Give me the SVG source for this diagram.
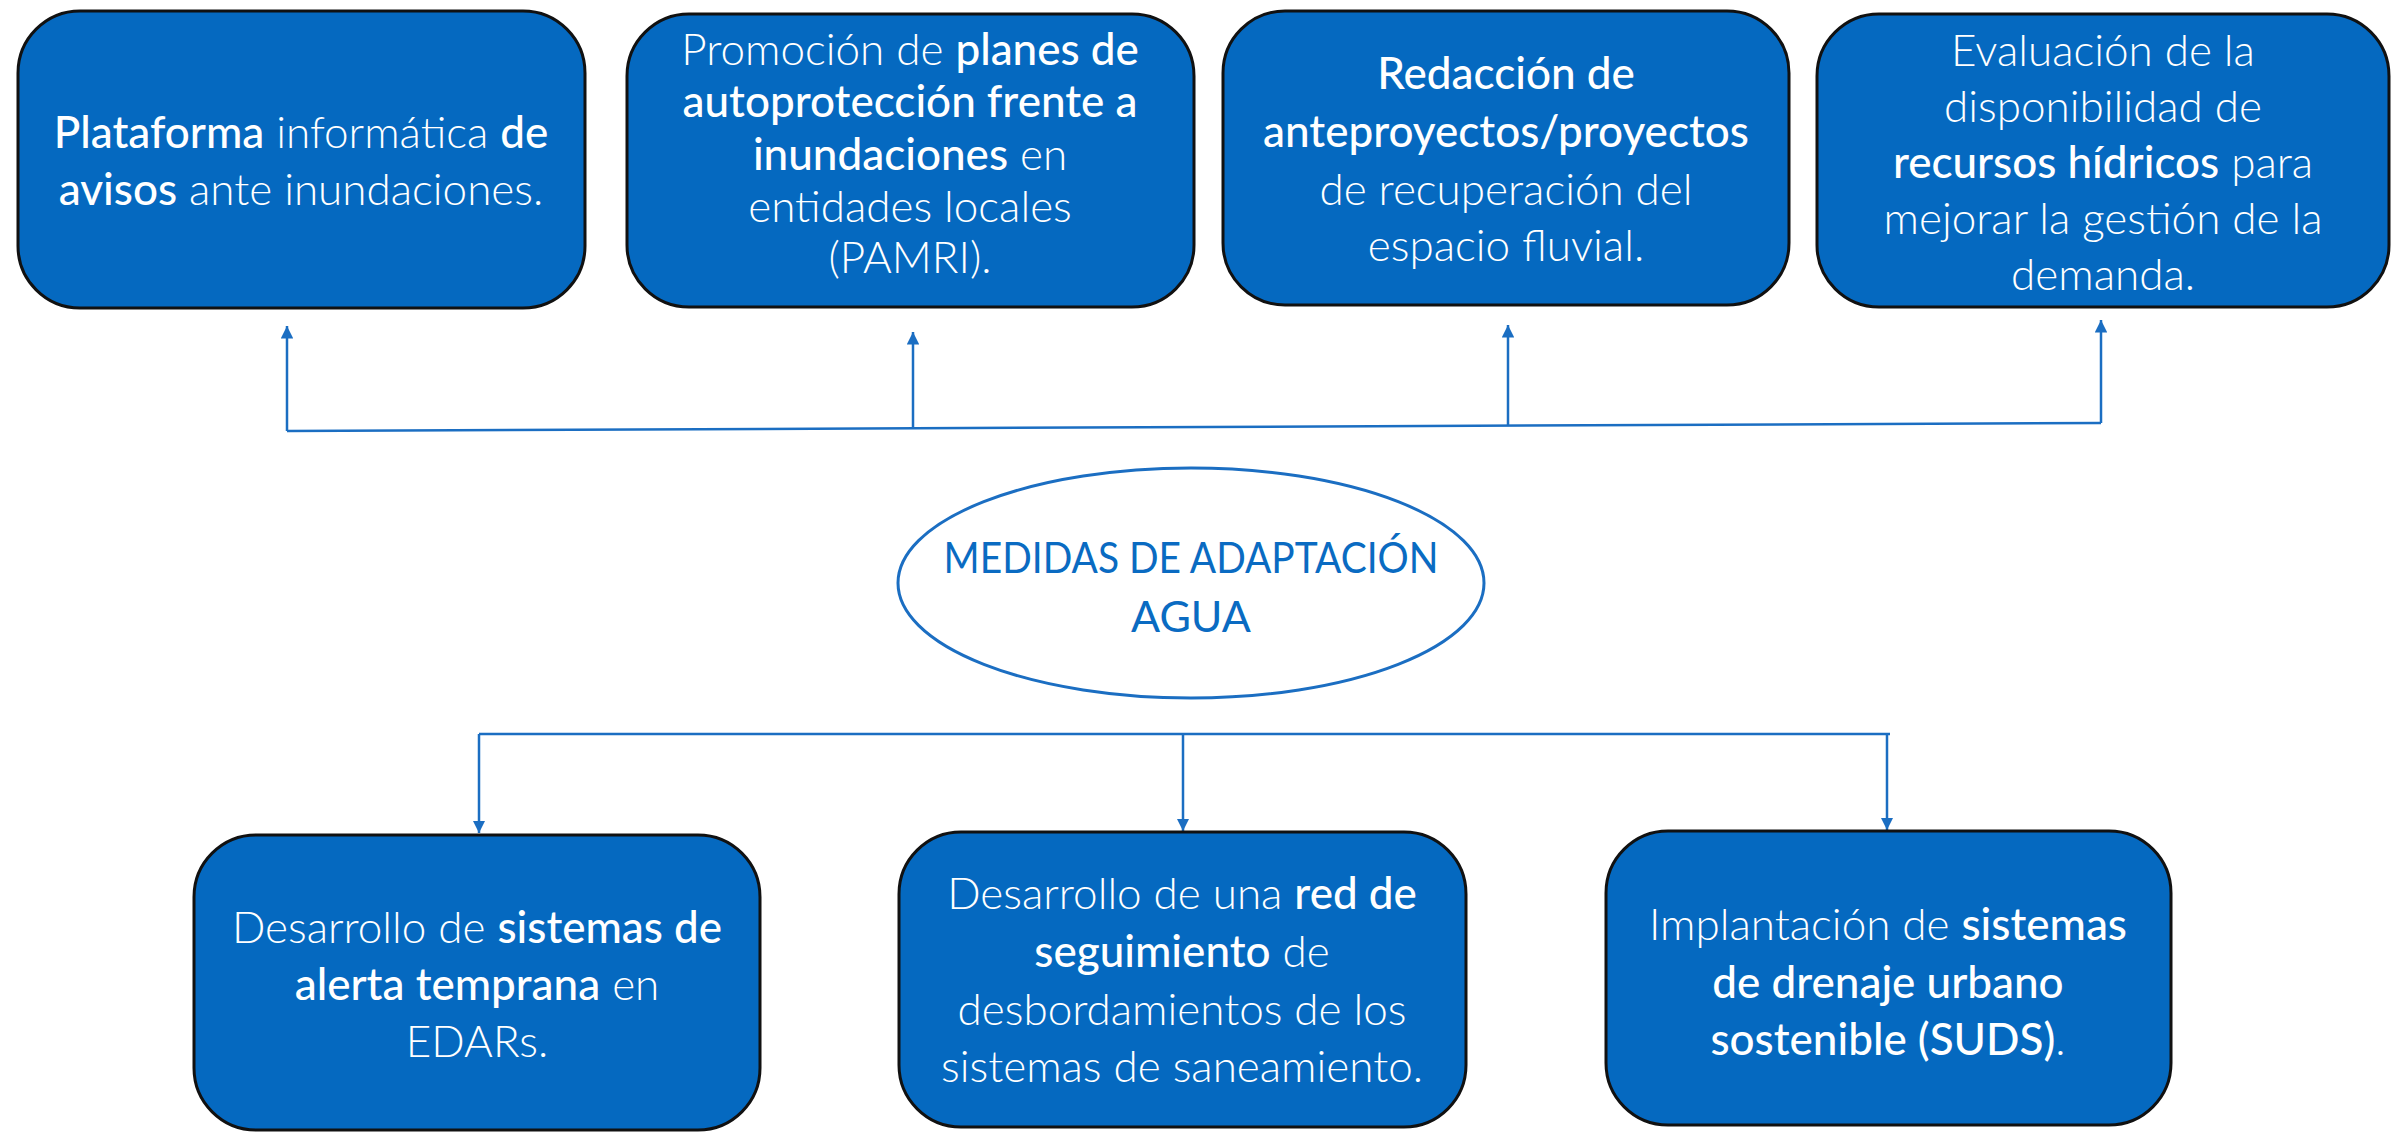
<svg xmlns="http://www.w3.org/2000/svg" width="2394" height="1138" viewBox="0 0 2394 1138">
<defs>
<style>
.box{fill:#0569C0;stroke:#111;stroke-width:3}
.t{font-family:Lato,"Liberation Sans",sans-serif;font-size:44px;fill:#fff;text-anchor:middle;font-weight:300}
.b{font-weight:500}
.c{stroke:#1B6EC2;stroke-width:2.5;fill:none}
.ct{font-family:Lato,"Liberation Sans",sans-serif;font-size:43px;fill:#0A6BC2;text-anchor:middle;font-weight:400}
</style>
<marker id="ah" viewBox="0 0 10 10" refX="10" refY="5" markerWidth="5" markerHeight="5" markerUnits="strokeWidth" orient="auto">
<path d="M0,0 L10,5 L0,10 z" fill="#1B6EC2"/>
</marker>
</defs>
<rect width="2394" height="1138" fill="#fff"/>
<g id="connectors">
<polyline class="c" points="287,431 2101,423"/>
<line class="c" x1="287" y1="431" x2="287" y2="326" marker-end="url(#ah)"/>
<line class="c" x1="913" y1="428" x2="913" y2="332" marker-end="url(#ah)"/>
<line class="c" x1="1508" y1="426" x2="1508" y2="325" marker-end="url(#ah)"/>
<line class="c" x1="2101" y1="423" x2="2101" y2="320" marker-end="url(#ah)"/>
<line class="c" x1="479" y1="734" x2="1890" y2="734"/>
<line class="c" x1="479" y1="734" x2="479" y2="833" marker-end="url(#ah)"/>
<line class="c" x1="1183" y1="734" x2="1183" y2="831" marker-end="url(#ah)"/>
<line class="c" x1="1887" y1="734" x2="1887" y2="830" marker-end="url(#ah)"/>
</g>
<g id="center">
<ellipse cx="1191" cy="583" rx="293" ry="115" fill="#fff" stroke="#1B6EC2" stroke-width="3"/>
<text class="ct" x="1191" y="573" textLength="495" lengthAdjust="spacingAndGlyphs">MEDIDAS DE ADAPTACIÓN</text>
<text class="ct" x="1191" y="632">AGUA</text>
</g>
<g id="n1">
<rect class="box" x="18" y="11" width="567" height="297" rx="62"/>
<text class="t" x="301" y="148"><tspan class="b">Plataforma</tspan> informática <tspan class="b">de</tspan></text>
<text class="t" x="301" y="205"><tspan class="b">avisos</tspan> ante inundaciones.</text>
</g>
<g id="n2">
<rect class="box" x="627" y="14" width="567" height="293" rx="62"/>
<text class="t" x="910" y="65">Promoción de <tspan class="b">planes de</tspan></text>
<text class="t" x="910" y="117"><tspan class="b">autoprotección frente a</tspan></text>
<text class="t" x="910" y="170"><tspan class="b">inundaciones</tspan> en</text>
<text class="t" x="910" y="222">entidades locales</text>
<text class="t" x="910" y="273">(PAMRI).</text>
</g>
<g id="n3">
<rect class="box" x="1223" y="11" width="566" height="294" rx="62"/>
<text class="t" x="1506" y="89"><tspan class="b">Redacción de</tspan></text>
<text class="t" x="1506" y="147"><tspan class="b">anteproyectos/proyectos</tspan></text>
<text class="t" x="1506" y="205">de recuperación del</text>
<text class="t" x="1506" y="261">espacio fluvial.</text>
</g>
<g id="n4">
<rect class="box" x="1817" y="14" width="572" height="293" rx="62"/>
<text class="t" x="2103" y="66">Evaluación de la</text>
<text class="t" x="2103" y="122">disponibilidad de</text>
<text class="t" x="2103" y="178"><tspan class="b">recursos hídricos</tspan> para</text>
<text class="t" x="2103" y="234">mejorar la gestión de la</text>
<text class="t" x="2103" y="290">demanda.</text>
</g>
<g id="n5">
<rect class="box" x="194" y="835" width="566" height="295" rx="62"/>
<text class="t" x="477" y="943">Desarrollo de <tspan class="b">sistemas de</tspan></text>
<text class="t" x="477" y="1000"><tspan class="b">alerta temprana</tspan> en</text>
<text class="t" x="477" y="1057">EDARs.</text>
</g>
<g id="n6">
<rect class="box" x="899" y="832" width="567" height="295" rx="62"/>
<text class="t" x="1182" y="909">Desarrollo de una <tspan class="b">red de</tspan></text>
<text class="t" x="1182" y="967"><tspan class="b">seguimiento</tspan> de</text>
<text class="t" x="1182" y="1025">desbordamientos de los</text>
<text class="t" x="1182" y="1082">sistemas de saneamiento.</text>
</g>
<g id="n7">
<rect class="box" x="1606" y="831" width="565" height="294" rx="62"/>
<text class="t" x="1888" y="940">Implantación de <tspan class="b">sistemas</tspan></text>
<text class="t" x="1888" y="998"><tspan class="b">de drenaje urbano</tspan></text>
<text class="t" x="1888" y="1055"><tspan class="b">sostenible (SUDS)</tspan>.</text>
</g>
</svg>
